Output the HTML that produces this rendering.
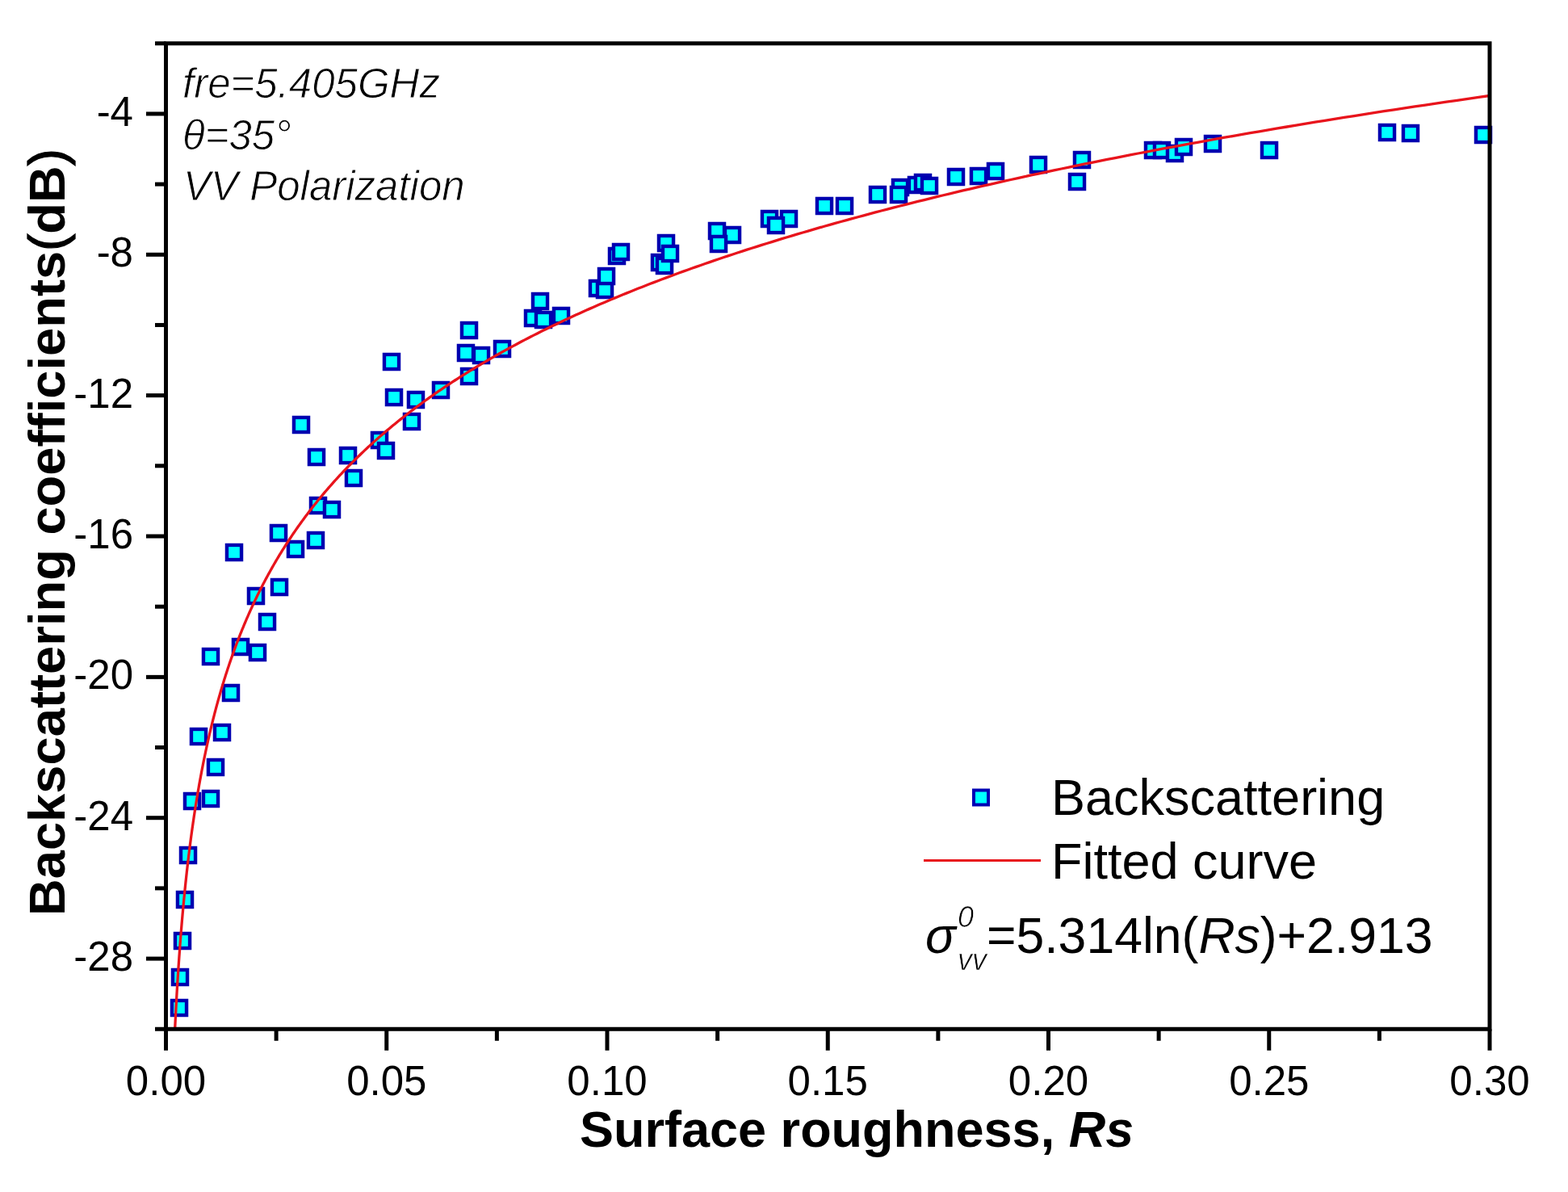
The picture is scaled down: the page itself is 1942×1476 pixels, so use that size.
<!DOCTYPE html>
<html><head><meta charset="utf-8"><title>Backscattering vs surface roughness</title><style>
html,body{margin:0;padding:0;background:#fff;}
svg{display:block;}
text{font-family:"Liberation Sans",Arial,sans-serif;fill:#000;}
</style></head><body>
<svg width="1942" height="1476" viewBox="0 0 1942 1476">
<rect x="0" y="0" width="1942" height="1476" fill="#fff"/>
<g fill="#00ffff" stroke="#0000b0" stroke-width="4.4">
<rect x="212.95" y="1238.95" width="18.1" height="18.1"/>
<rect x="213.95" y="1200.95" width="18.1" height="18.1"/>
<rect x="216.95" y="1155.95" width="18.1" height="18.1"/>
<rect x="219.95" y="1104.95" width="18.1" height="18.1"/>
<rect x="223.95" y="1049.95" width="18.1" height="18.1"/>
<rect x="228.95" y="982.95" width="18.1" height="18.1"/>
<rect x="251.95" y="979.95" width="18.1" height="18.1"/>
<rect x="257.95" y="940.95" width="18.1" height="18.1"/>
<rect x="236.95" y="902.95" width="18.1" height="18.1"/>
<rect x="265.95" y="897.95" width="18.1" height="18.1"/>
<rect x="276.95" y="848.95" width="18.1" height="18.1"/>
<rect x="251.95" y="803.95" width="18.1" height="18.1"/>
<rect x="288.95" y="791.95" width="18.1" height="18.1"/>
<rect x="309.95" y="798.95" width="18.1" height="18.1"/>
<rect x="321.95" y="760.95" width="18.1" height="18.1"/>
<rect x="307.95" y="728.95" width="18.1" height="18.1"/>
<rect x="336.95" y="717.95" width="18.1" height="18.1"/>
<rect x="280.95" y="674.95" width="18.1" height="18.1"/>
<rect x="335.95" y="650.95" width="18.1" height="18.1"/>
<rect x="356.95" y="670.95" width="18.1" height="18.1"/>
<rect x="381.95" y="659.95" width="18.1" height="18.1"/>
<rect x="384.95" y="616.95" width="18.1" height="18.1"/>
<rect x="401.95" y="621.95" width="18.1" height="18.1"/>
<rect x="382.95" y="556.95" width="18.1" height="18.1"/>
<rect x="421.95" y="554.95" width="18.1" height="18.1"/>
<rect x="428.95" y="582.95" width="18.1" height="18.1"/>
<rect x="363.95" y="516.95" width="18.1" height="18.1"/>
<rect x="460.95" y="535.95" width="18.1" height="18.1"/>
<rect x="468.95" y="548.95" width="18.1" height="18.1"/>
<rect x="500.95" y="512.95" width="18.1" height="18.1"/>
<rect x="478.95" y="482.95" width="18.1" height="18.1"/>
<rect x="505.95" y="485.95" width="18.1" height="18.1"/>
<rect x="475.95" y="438.95" width="18.1" height="18.1"/>
<rect x="536.95" y="473.95" width="18.1" height="18.1"/>
<rect x="571.95" y="456.95" width="18.1" height="18.1"/>
<rect x="567.95" y="427.95" width="18.1" height="18.1"/>
<rect x="586.95" y="430.95" width="18.1" height="18.1"/>
<rect x="571.95" y="399.95" width="18.1" height="18.1"/>
<rect x="612.95" y="422.95" width="18.1" height="18.1"/>
<rect x="659.95" y="363.95" width="18.1" height="18.1"/>
<rect x="650.95" y="384.95" width="18.1" height="18.1"/>
<rect x="663.95" y="386.95" width="18.1" height="18.1"/>
<rect x="685.95" y="381.95" width="18.1" height="18.1"/>
<rect x="730.95" y="347.95" width="18.1" height="18.1"/>
<rect x="739.95" y="349.95" width="18.1" height="18.1"/>
<rect x="741.95" y="332.95" width="18.1" height="18.1"/>
<rect x="754.95" y="307.95" width="18.1" height="18.1"/>
<rect x="759.95" y="302.95" width="18.1" height="18.1"/>
<rect x="807.95" y="315.95" width="18.1" height="18.1"/>
<rect x="813.95" y="319.95" width="18.1" height="18.1"/>
<rect x="815.95" y="291.95" width="18.1" height="18.1"/>
<rect x="820.95" y="304.95" width="18.1" height="18.1"/>
<rect x="878.95" y="276.95" width="18.1" height="18.1"/>
<rect x="897.95" y="281.95" width="18.1" height="18.1"/>
<rect x="880.95" y="292.95" width="18.1" height="18.1"/>
<rect x="943.95" y="261.95" width="18.1" height="18.1"/>
<rect x="967.95" y="261.95" width="18.1" height="18.1"/>
<rect x="951.95" y="269.95" width="18.1" height="18.1"/>
<rect x="1011.95" y="245.95" width="18.1" height="18.1"/>
<rect x="1036.95" y="245.95" width="18.1" height="18.1"/>
<rect x="1077.95" y="231.95" width="18.1" height="18.1"/>
<rect x="1105.95" y="222.95" width="18.1" height="18.1"/>
<rect x="1103.95" y="231.95" width="18.1" height="18.1"/>
<rect x="1125.95" y="219.95" width="18.1" height="18.1"/>
<rect x="1133.95" y="216.95" width="18.1" height="18.1"/>
<rect x="1141.95" y="220.95" width="18.1" height="18.1"/>
<rect x="1174.95" y="209.95" width="18.1" height="18.1"/>
<rect x="1202.95" y="208.95" width="18.1" height="18.1"/>
<rect x="1223.95" y="202.95" width="18.1" height="18.1"/>
<rect x="1276.95" y="194.95" width="18.1" height="18.1"/>
<rect x="1330.95" y="188.95" width="18.1" height="18.1"/>
<rect x="1324.95" y="215.95" width="18.1" height="18.1"/>
<rect x="1418.95" y="176.95" width="18.1" height="18.1"/>
<rect x="1429.95" y="176.95" width="18.1" height="18.1"/>
<rect x="1445.95" y="180.95" width="18.1" height="18.1"/>
<rect x="1456.95" y="172.95" width="18.1" height="18.1"/>
<rect x="1492.95" y="168.95" width="18.1" height="18.1"/>
<rect x="1562.95" y="176.95" width="18.1" height="18.1"/>
<rect x="1708.95" y="154.95" width="18.1" height="18.1"/>
<rect x="1737.95" y="155.95" width="18.1" height="18.1"/>
<rect x="1827.95" y="157.95" width="18.1" height="18.1"/>
</g>
<defs><clipPath id="c"><rect x="205.5" y="53.8" width="1639.5" height="1220.5"/></clipPath></defs>
<path d="M216.66,1274.25 L216.75,1272.32 L216.85,1270.40 L216.94,1268.47 L217.04,1266.54 L217.14,1264.62 L217.23,1262.69 L217.33,1260.77 L217.43,1258.84 L217.53,1256.91 L217.63,1254.99 L217.73,1253.06 L217.83,1251.13 L217.94,1249.21 L218.04,1247.28 L218.14,1245.36 L218.25,1243.43 L218.36,1241.50 L218.46,1239.58 L218.57,1237.65 L218.68,1235.72 L218.79,1233.80 L218.90,1231.87 L219.01,1229.95 L219.13,1228.02 L219.24,1226.09 L219.36,1224.17 L219.47,1222.24 L219.59,1220.31 L219.71,1218.39 L219.82,1216.46 L219.94,1214.54 L220.06,1212.61 L220.19,1210.68 L220.31,1208.76 L220.43,1206.83 L220.56,1204.90 L220.68,1202.98 L220.81,1201.05 L220.94,1199.12 L221.07,1197.20 L221.20,1195.27 L221.33,1193.35 L221.46,1191.42 L221.59,1189.49 L221.73,1187.57 L221.86,1185.64 L222.00,1183.71 L222.14,1181.79 L222.28,1179.86 L222.42,1177.94 L222.56,1176.01 L222.70,1174.08 L222.84,1172.16 L222.99,1170.23 L223.13,1168.30 L223.28,1166.38 L223.43,1164.45 L223.58,1162.53 L223.73,1160.60 L223.88,1158.67 L224.04,1156.75 L224.19,1154.82 L224.35,1152.89 L224.51,1150.97 L224.66,1149.04 L224.82,1147.11 L224.99,1145.19 L225.15,1143.26 L225.31,1141.34 L225.48,1139.41 L225.64,1137.48 L225.81,1135.56 L225.98,1133.63 L226.15,1131.70 L226.33,1129.78 L226.50,1127.85 L226.67,1125.93 L226.85,1124.00 L227.03,1122.07 L227.21,1120.15 L227.39,1118.22 L227.57,1116.29 L227.76,1114.37 L227.94,1112.44 L228.13,1110.52 L228.32,1108.59 L228.51,1106.66 L228.70,1104.74 L228.90,1102.81 L229.09,1100.88 L229.29,1098.96 L229.49,1097.03 L229.69,1095.11 L229.89,1093.18 L230.09,1091.25 L230.30,1089.33 L230.51,1087.40 L230.72,1085.47 L230.93,1083.55 L231.14,1081.62 L231.35,1079.69 L231.57,1077.77 L231.79,1075.84 L232.01,1073.92 L232.23,1071.99 L232.45,1070.06 L232.68,1068.14 L232.90,1066.21 L233.13,1064.28 L233.36,1062.36 L233.59,1060.43 L233.83,1058.51 L234.07,1056.58 L234.30,1054.65 L234.54,1052.73 L234.79,1050.80 L235.03,1048.87 L235.28,1046.95 L235.53,1045.02 L235.78,1043.10 L236.03,1041.17 L236.29,1039.24 L236.54,1037.32 L236.80,1035.39 L237.06,1033.46 L237.33,1031.54 L237.59,1029.61 L237.86,1027.68 L238.13,1025.76 L238.40,1023.83 L238.68,1021.91 L238.96,1019.98 L239.23,1018.05 L239.52,1016.13 L239.80,1014.20 L240.09,1012.27 L240.38,1010.35 L240.67,1008.42 L240.96,1006.50 L241.26,1004.57 L241.56,1002.64 L241.86,1000.72 L242.16,998.79 L242.47,996.86 L242.77,994.94 L243.09,993.01 L243.40,991.09 L243.72,989.16 L244.04,987.23 L244.36,985.31 L244.68,983.38 L245.01,981.45 L245.34,979.53 L245.67,977.60 L246.01,975.68 L246.35,973.75 L246.69,971.82 L247.03,969.90 L247.38,967.97 L247.73,966.04 L248.08,964.12 L248.44,962.19 L248.79,960.26 L249.16,958.34 L249.52,956.41 L249.89,954.49 L250.26,952.56 L250.63,950.63 L251.01,948.71 L251.39,946.78 L251.77,944.85 L252.16,942.93 L252.55,941.00 L252.94,939.08 L253.34,937.15 L253.74,935.22 L254.14,933.30 L254.55,931.37 L254.96,929.44 L255.37,927.52 L255.78,925.59 L256.20,923.67 L256.63,921.74 L257.05,919.81 L257.49,917.89 L257.92,915.96 L258.36,914.03 L258.80,912.11 L259.24,910.18 L259.69,908.25 L260.14,906.33 L260.60,904.40 L261.06,902.48 L261.53,900.55 L261.99,898.62 L262.47,896.70 L262.94,894.77 L263.42,892.84 L263.90,890.92 L264.39,888.99 L264.88,887.07 L265.38,885.14 L265.88,883.21 L266.38,881.29 L266.89,879.36 L267.40,877.43 L267.92,875.51 L268.44,873.58 L268.97,871.66 L269.50,869.73 L270.03,867.80 L270.57,865.88 L271.12,863.95 L271.66,862.02 L272.22,860.10 L272.77,858.17 L273.33,856.25 L273.90,854.32 L274.47,852.39 L275.05,850.47 L275.63,848.54 L276.21,846.61 L276.81,844.69 L277.40,842.76 L278.00,840.83 L278.61,838.91 L279.22,836.98 L279.83,835.06 L280.45,833.13 L281.08,831.20 L281.71,829.28 L282.35,827.35 L282.99,825.42 L283.64,823.50 L284.29,821.57 L284.95,819.65 L285.61,817.72 L286.28,815.79 L286.95,813.87 L287.63,811.94 L288.32,810.01 L289.01,808.09 L289.71,806.16 L290.41,804.24 L291.12,802.31 L291.84,800.38 L292.56,798.46 L293.28,796.53 L294.02,794.60 L294.76,792.68 L295.50,790.75 L296.25,788.83 L297.01,786.90 L297.77,784.97 L298.55,783.05 L299.32,781.12 L300.11,779.19 L300.90,777.27 L301.69,775.34 L302.50,773.41 L303.31,771.49 L304.12,769.56 L304.95,767.64 L305.78,765.71 L306.61,763.78 L307.46,761.86 L308.31,759.93 L309.17,758.00 L310.03,756.08 L310.91,754.15 L311.79,752.23 L312.67,750.30 L313.57,748.37 L314.47,746.45 L315.38,744.52 L316.30,742.59 L317.23,740.67 L318.16,738.74 L319.10,736.82 L320.05,734.89 L321.00,732.96 L321.97,731.04 L322.94,729.11 L323.92,727.18 L324.91,725.26 L325.91,723.33 L326.91,721.40 L327.93,719.48 L328.95,717.55 L329.98,715.63 L331.02,713.70 L332.07,711.77 L333.13,709.85 L334.19,707.92 L335.27,705.99 L336.35,704.07 L337.44,702.14 L338.54,700.22 L339.66,698.29 L340.78,696.36 L341.91,694.44 L343.04,692.51 L344.19,690.58 L345.35,688.66 L346.52,686.73 L347.70,684.81 L348.88,682.88 L350.08,680.95 L351.29,679.03 L352.51,677.10 L353.73,675.17 L354.97,673.25 L356.22,671.32 L357.48,669.40 L358.75,667.47 L360.03,665.54 L361.32,663.62 L362.62,661.69 L363.93,659.76 L365.25,657.84 L366.59,655.91 L367.93,653.98 L369.29,652.06 L370.66,650.13 L372.04,648.21 L373.43,646.28 L374.83,644.35 L376.24,642.43 L377.67,640.50 L379.11,638.57 L380.56,636.65 L382.02,634.72 L383.49,632.80 L384.98,630.87 L386.48,628.94 L387.99,627.02 L389.51,625.09 L391.05,623.16 L392.60,621.24 L394.16,619.31 L395.74,617.39 L397.33,615.46 L398.93,613.53 L400.54,611.61 L402.17,609.68 L403.81,607.75 L405.47,605.83 L407.14,603.90 L408.82,601.97 L410.52,600.05 L412.23,598.12 L413.96,596.20 L415.70,594.27 L417.46,592.34 L419.23,590.42 L421.01,588.49 L422.81,586.56 L424.63,584.64 L426.46,582.71 L428.30,580.79 L430.16,578.86 L432.04,576.93 L433.93,575.01 L435.84,573.08 L437.76,571.15 L439.70,569.23 L441.66,567.30 L443.63,565.38 L445.62,563.45 L447.62,561.52 L449.64,559.60 L451.68,557.67 L453.74,555.74 L455.81,553.82 L457.90,551.89 L460.01,549.97 L462.13,548.04 L464.28,546.11 L466.44,544.19 L468.62,542.26 L470.82,540.33 L473.03,538.41 L475.26,536.48 L477.52,534.55 L479.79,532.63 L482.08,530.70 L484.39,528.78 L486.72,526.85 L489.07,524.92 L491.43,523.00 L493.82,521.07 L496.23,519.14 L498.66,517.22 L501.11,515.29 L503.57,513.37 L506.06,511.44 L508.57,509.51 L511.10,507.59 L513.66,505.66 L516.23,503.73 L518.82,501.81 L521.44,499.88 L524.08,497.96 L526.74,496.03 L529.42,494.10 L532.13,492.18 L534.86,490.25 L537.61,488.32 L540.38,486.40 L543.18,484.47 L546.00,482.54 L548.84,480.62 L551.71,478.69 L554.60,476.77 L557.51,474.84 L560.45,472.91 L563.42,470.99 L566.40,469.06 L569.42,467.13 L572.46,465.21 L575.52,463.28 L578.61,461.36 L581.73,459.43 L584.87,457.50 L588.04,455.58 L591.23,453.65 L594.45,451.72 L597.70,449.80 L600.98,447.87 L604.28,445.95 L607.61,444.02 L610.97,442.09 L614.35,440.17 L617.77,438.24 L621.21,436.31 L624.68,434.39 L628.18,432.46 L631.71,430.54 L635.27,428.61 L638.86,426.68 L642.48,424.76 L646.13,422.83 L649.81,420.90 L653.52,418.98 L657.26,417.05 L661.03,415.12 L664.84,413.20 L668.67,411.27 L672.54,409.35 L676.44,407.42 L680.37,405.49 L684.34,403.57 L688.34,401.64 L692.37,399.71 L696.43,397.79 L700.53,395.86 L704.67,393.94 L708.84,392.01 L713.04,390.08 L717.28,388.16 L721.55,386.23 L725.86,384.30 L730.21,382.38 L734.59,380.45 L739.01,378.53 L743.46,376.60 L747.95,374.67 L752.48,372.75 L757.05,370.82 L761.66,368.89 L766.30,366.97 L770.99,365.04 L775.71,363.12 L780.47,361.19 L785.27,359.26 L790.11,357.34 L794.99,355.41 L799.92,353.48 L804.88,351.56 L809.89,349.63 L814.93,347.70 L820.02,345.78 L825.15,343.85 L830.33,341.93 L835.55,340.00 L840.81,338.07 L846.11,336.15 L851.46,334.22 L856.86,332.29 L862.30,330.37 L867.78,328.44 L873.31,326.52 L878.89,324.59 L884.51,322.66 L890.18,320.74 L895.90,318.81 L901.67,316.88 L907.48,314.96 L913.34,313.03 L919.25,311.11 L925.21,309.18 L931.22,307.25 L937.28,305.33 L943.39,303.40 L949.56,301.47 L955.77,299.55 L962.03,297.62 L968.35,295.69 L974.72,293.77 L981.15,291.84 L987.62,289.92 L994.15,287.99 L1000.74,286.06 L1007.38,284.14 L1014.08,282.21 L1020.83,280.28 L1027.64,278.36 L1034.50,276.43 L1041.43,274.51 L1048.41,272.58 L1055.45,270.65 L1062.54,268.73 L1069.70,266.80 L1076.92,264.87 L1084.20,262.95 L1091.53,261.02 L1098.93,259.10 L1106.39,257.17 L1113.92,255.24 L1121.50,253.32 L1129.15,251.39 L1136.86,249.46 L1144.64,247.54 L1152.49,245.61 L1160.39,243.69 L1168.37,241.76 L1176.41,239.83 L1184.52,237.91 L1192.69,235.98 L1200.94,234.05 L1209.25,232.13 L1217.63,230.20 L1226.08,228.27 L1234.60,226.35 L1243.20,224.42 L1251.86,222.50 L1260.60,220.57 L1269.41,218.64 L1278.30,216.72 L1287.26,214.79 L1296.29,212.86 L1305.40,210.94 L1314.58,209.01 L1323.85,207.09 L1333.18,205.16 L1342.60,203.23 L1352.10,201.31 L1361.67,199.38 L1371.33,197.45 L1381.06,195.53 L1390.88,193.60 L1400.78,191.68 L1410.76,189.75 L1420.82,187.82 L1430.97,185.90 L1441.21,183.97 L1451.53,182.04 L1461.93,180.12 L1472.42,178.19 L1483.00,176.26 L1493.67,174.34 L1504.43,172.41 L1515.28,170.49 L1526.21,168.56 L1537.24,166.63 L1548.36,164.71 L1559.58,162.78 L1570.89,160.85 L1582.29,158.93 L1593.78,157.00 L1605.38,155.08 L1617.07,153.15 L1628.86,151.22 L1640.74,149.30 L1652.73,147.37 L1664.81,145.44 L1677.00,143.52 L1689.29,141.59 L1701.68,139.67 L1714.17,137.74 L1726.77,135.81 L1739.48,133.89 L1752.28,131.96 L1765.20,130.03 L1778.23,128.11 L1791.36,126.18 L1804.60,124.26 L1817.96,122.33 L1831.42,120.40 L1845.00,118.48" fill="none" stroke="#e8141c" stroke-width="3.3" clip-path="url(#c)"/>
<g stroke="#000" stroke-width="5" fill="none" stroke-linecap="butt">
<rect x="205.50" y="53.75" width="1639.50" height="1220.50"/>
<line x1="192.00" y1="1274.25" x2="205.50" y2="1274.25"/>
<line x1="181.00" y1="1187.07" x2="205.50" y2="1187.07"/>
<line x1="192.00" y1="1099.89" x2="205.50" y2="1099.89"/>
<line x1="181.00" y1="1012.71" x2="205.50" y2="1012.71"/>
<line x1="192.00" y1="925.54" x2="205.50" y2="925.54"/>
<line x1="181.00" y1="838.36" x2="205.50" y2="838.36"/>
<line x1="192.00" y1="751.18" x2="205.50" y2="751.18"/>
<line x1="181.00" y1="664.00" x2="205.50" y2="664.00"/>
<line x1="192.00" y1="576.82" x2="205.50" y2="576.82"/>
<line x1="181.00" y1="489.64" x2="205.50" y2="489.64"/>
<line x1="192.00" y1="402.46" x2="205.50" y2="402.46"/>
<line x1="181.00" y1="315.29" x2="205.50" y2="315.29"/>
<line x1="192.00" y1="228.11" x2="205.50" y2="228.11"/>
<line x1="181.00" y1="140.93" x2="205.50" y2="140.93"/>
<line x1="192.00" y1="53.75" x2="205.50" y2="53.75"/>
<line x1="205.50" y1="1274.25" x2="205.50" y2="1300.75"/>
<line x1="342.12" y1="1274.25" x2="342.12" y2="1288.75"/>
<line x1="478.75" y1="1274.25" x2="478.75" y2="1300.75"/>
<line x1="615.38" y1="1274.25" x2="615.38" y2="1288.75"/>
<line x1="752.00" y1="1274.25" x2="752.00" y2="1300.75"/>
<line x1="888.62" y1="1274.25" x2="888.62" y2="1288.75"/>
<line x1="1025.25" y1="1274.25" x2="1025.25" y2="1300.75"/>
<line x1="1161.88" y1="1274.25" x2="1161.88" y2="1288.75"/>
<line x1="1298.50" y1="1274.25" x2="1298.50" y2="1300.75"/>
<line x1="1435.12" y1="1274.25" x2="1435.12" y2="1288.75"/>
<line x1="1571.75" y1="1274.25" x2="1571.75" y2="1300.75"/>
<line x1="1708.38" y1="1274.25" x2="1708.38" y2="1288.75"/>
<line x1="1845.00" y1="1274.25" x2="1845.00" y2="1300.75"/>
</g>
<g font-size="51" text-anchor="end">
<text x="165" y="1202.1">-28</text>
<text x="165" y="1027.7">-24</text>
<text x="165" y="853.4">-20</text>
<text x="165" y="679.0">-16</text>
<text x="165" y="504.6">-12</text>
<text x="165" y="330.3">-8</text>
<text x="165" y="155.9">-4</text>
</g>
<g font-size="51" text-anchor="middle">
<text x="205.5" y="1356">0.00</text>
<text x="478.8" y="1356">0.05</text>
<text x="752.0" y="1356">0.10</text>
<text x="1025.2" y="1356">0.15</text>
<text x="1298.5" y="1356">0.20</text>
<text x="1571.8" y="1356">0.25</text>
<text x="1845.0" y="1356">0.30</text>
</g>
<text transform="translate(80,1134) rotate(-90)" font-size="63.3" font-weight="bold">Backscattering coefficients<tspan font-weight="normal" stroke="#000" stroke-width="1.3">(</tspan>dB<tspan font-weight="normal" stroke="#000" stroke-width="1.3">)</tspan></text>
<text x="718" y="1420" font-size="63" font-weight="bold">Surface roughness, <tspan font-style="italic">Rs</tspan></text>
<g font-size="51" font-style="italic" stroke="#fff" stroke-width="0.9">
<text x="226" y="121">fre=5.405GHz</text>
<text x="226" y="184.5">θ=35°</text>
<text x="227" y="248">VV Polarization</text>
</g>
<rect x="1206" y="978.5" width="18" height="18" fill="#00ffff" stroke="#0000b4" stroke-width="4"/>
<line x1="1144" y1="1065.5" x2="1289" y2="1065.5" stroke="#e8141c" stroke-width="3.2"/>
<text x="1302" y="1008.5" font-size="63">Backscattering</text>
<text x="1302" y="1088" font-size="63">Fitted curve</text>
<text x="1146" y="1179.5" font-size="62.5"><tspan font-style="italic">σ</tspan></text>
<text x="1186" y="1147.5" font-size="36" font-style="italic" stroke="#fff" stroke-width="0.7">0</text>
<text x="1186" y="1201" font-size="36" font-style="italic" stroke="#fff" stroke-width="0.7">vv</text>
<text x="1222" y="1179.5" font-size="62.5">=5.314ln(<tspan font-style="italic">Rs</tspan>)+2.913</text>
</svg>
</body></html>
